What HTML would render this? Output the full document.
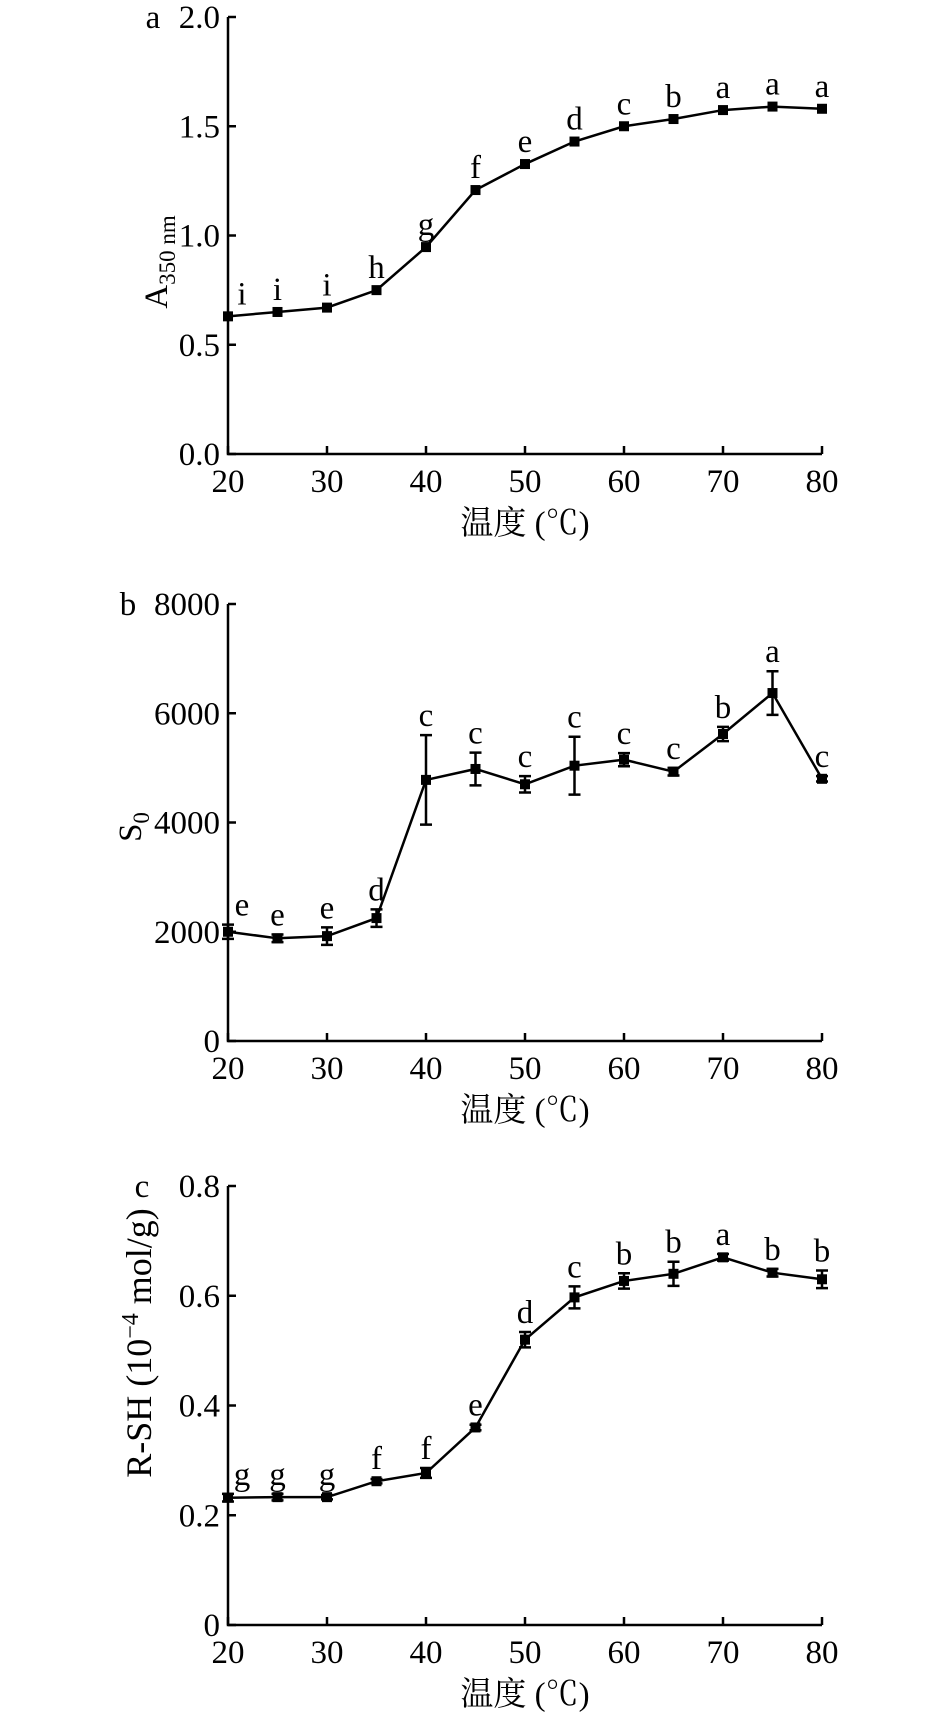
<!DOCTYPE html>
<html><head><meta charset="utf-8"><style>
html,body{margin:0;padding:0;background:#fff;}
svg{display:block;}
text{font-family:"Liberation Serif","Noto Serif CJK SC",serif;fill:#000;}
</style></head><body>
<svg id="fig" width="945" height="1712" viewBox="0 0 945 1712"></svg>
<script>
const temps = [20,25,30,35,40,45,50,55,60,65,70,75,80];
const xTicks = [20,30,40,50,60,70,80];
const aValues = [0.63,0.65,0.67,0.75,0.947,1.208,1.327,1.43,1.50,1.533,1.574,1.59,1.58];
const aLetters = ["i","i","i","h","g","f","e","d","c","b","a","a","a"];
const aTicks = ["0.0","0.5","1.0","1.5","2.0"];
const bValues = [2000,1880,1920,2250,4780,4980,4700,5040,5150,4930,5620,6370,4800];
const bErrors = [130,70,160,160,820,300,150,530,120,70,130,400,50];
const bLetters = ["e","e","e","d","c","c","c","c","c","c","b","a","c"];
const bTicks = ["0","2000","4000","6000","8000"];
const cValues = [0.232,0.233,0.233,0.262,0.277,0.36,0.52,0.597,0.627,0.64,0.67,0.642,0.63];
const cErrors = [0.007,0.006,0.004,0.004,0.009,0.005,0.014,0.02,0.014,0.022,0.006,0.007,0.016];
const cLetters = ["g","g","g","f","f","e","d","c","b","b","a","b","b"];
const cTicks = ["0","0.2","0.4","0.6","0.8"];

const NS="http://www.w3.org/2000/svg";
const svg=document.getElementById('fig');
function el(tag,attrs,parent,text){const e=document.createElementNS(NS,tag);for(const k in attrs)e.setAttribute(k,attrs[k]);if(text!==undefined)e.textContent=text;(parent||svg).appendChild(e);return e;}
const X0=228,X1=822;
function xs(t){return X0+(t-20)/60*(X1-X0);}

function panel(cfg){
  const g=el('g',{});
  
  
  const ys=v=>cfg.yBottom-(v-cfg.yMin)/(cfg.yMax-cfg.yMin)*(cfg.yBottom-cfg.yTop);
  const ax=el('path',{d:`M${X0},${cfg.yTop} V${cfg.yBottom} H${X1}`,stroke:'#000','stroke-width':2.5,fill:'none'},g);
  
  
  cfg.ticks.forEach((lab,i)=>{
    const v=cfg.yMin+i*(cfg.yMax-cfg.yMin)/(cfg.ticks.length-1);
    const y=ys(v);
    el('line',{x1:X0,x2:X0+8,y1:y,y2:y,stroke:'#000','stroke-width':2.5},g);
    const t=el('text',{x:X0-8,y:y+11,'font-size':33,'text-anchor':'end'},g,lab);
    
    
  });
  xTicks.forEach(tv=>{
    const x=xs(tv);
    el('line',{x1:x,x2:x,y1:cfg.yBottom,y2:cfg.yBottom-8,stroke:'#000','stroke-width':2.5},g);
    const t=el('text',{x:x,y:cfg.yBottom+38,'font-size':33,'text-anchor':'middle'},g,String(tv));
    
    
  });
  const xt=el('text',{x:525,y:cfg.yBottom+80,'font-size':33,'text-anchor':'middle'},g,'温度 (℃)');
  
  
  const pl=el('text',{x:cfg.letterX,y:cfg.yTop+11,'font-size':33,'text-anchor':'middle'},g,cfg.panel);
  
  
  const yt=el('text',{x:0,y:0,'font-size':cfg.yTitleSize||33,'text-anchor':'middle',transform:`translate(${cfg.yTitleX},${cfg.yTitleY}) rotate(-90)`},g);
  yt.innerHTML=cfg.yTitle;
  
  
  const pts=cfg.values.map((v,i)=>[xs(temps[i]),ys(v)]);
  const line=el('polyline',{points:pts.map(p=>p.join(',')).join(' '),fill:'none',stroke:'#000','stroke-width':2.5},g);
  
  
  cfg.values.forEach((v,i)=>{
    const x=pts[i][0],y=pts[i][1];
    let lab=y-12;
    if(cfg.errors){
      const e=cfg.errors[i];const y1=ys(v+e),y2=ys(v-e);
      lab=Math.min(y1-9,y-12);
      if(y2-y1>4){
        const eb=el('path',{d:`M${x},${y1}V${y2}M${x-6},${y1}H${x+6}M${x-6},${y2}H${x+6}`,stroke:'#000','stroke-width':2.5,fill:'none'},g);
        
        
      }
    }
    const m=el('rect',{x:x-5,y:y-5,width:10,height:10,fill:'#000'},g);
    
    
    const lx=i===0?x+14:x;
    const lt=el('text',{x:lx,y:lab,'font-size':33,'text-anchor':'middle'},g,cfg.letters[i]);
    
    
  });
}
panel({name:'panel-a',panel:'a',yTop:17,yBottom:454,yMin:0,yMax:2,ticks:aTicks,values:aValues,letters:aLetters,letterX:153,yTitleX:167,yTitleY:262,
  yTitle:'A<tspan font-size="23" dy="8">350 nm</tspan>'});
panel({name:'panel-b',panel:'b',yTop:604,yBottom:1041,yMin:0,yMax:8000,ticks:bTicks,values:bValues,errors:bErrors,letters:bLetters,letterX:128,yTitleX:141,yTitleY:827,
  yTitle:'S<tspan font-size="23" dy="8">0</tspan>'});
panel({name:'panel-c',panel:'c',yTop:1186,yBottom:1625,yMin:0,yMax:0.8,ticks:cTicks,values:cValues,errors:cErrors,letters:cLetters,letterX:142,yTitleX:151,yTitleY:1343,yTitleSize:36,
  yTitle:'R-SH (10<tspan font-size="24" dy="-13">−4</tspan><tspan dy="13"> mol/g)</tspan>'});
</script>
</body></html>
